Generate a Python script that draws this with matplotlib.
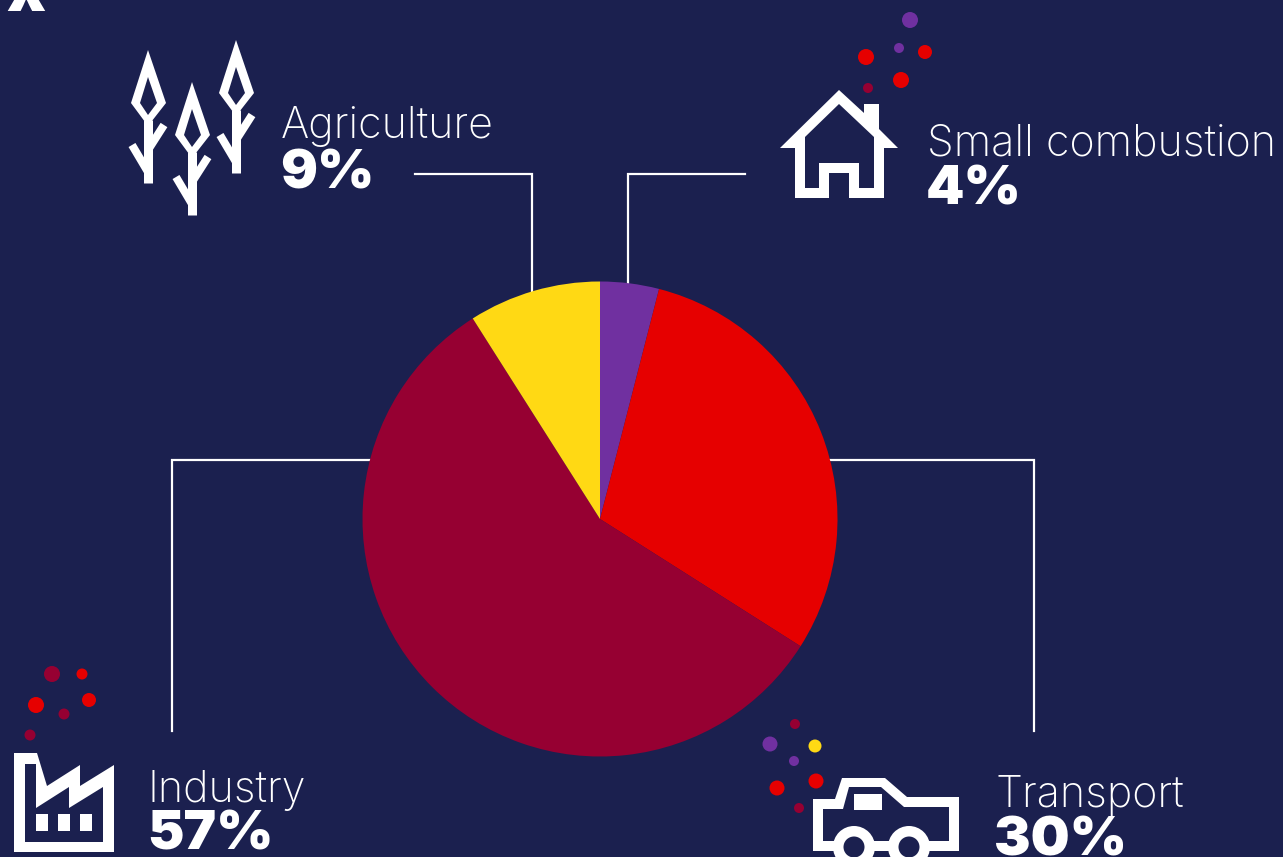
import matplotlib
matplotlib.use('Agg')
import matplotlib.pyplot as plt
from matplotlib.patches import Circle, Polygon, Rectangle

# Pie data
sectors = ['Small combustion', 'Transport', 'Industry', 'Agriculture']
shares = [4, 30, 57, 9]
sector_colors = ['#7030a0', '#e60000', '#960032', '#ffd914']

BG = '#1b204f'
WHITE = '#ffffff'
PURPLE, RED, DARK, YELLOW = sector_colors[0], sector_colors[1], sector_colors[2], sector_colors[3]
FONT = 'Inter'

fig = plt.figure(figsize=(12.83, 8.57), dpi=100, facecolor=BG)
ax = fig.add_axes([0, 0, 1, 1])

# y axis is flipped so the layout can be read as picture pixels, pie runs clockwise from the top
ax.pie(shares, colors=sector_colors, center=(600, 519), radius=237.5, startangle=-90,
       counterclock=True, wedgeprops={'linewidth': 0, 'zorder': 3})
ax.set_xlim(0, 1283)
ax.set_ylim(857, 0)
ax.set_aspect('auto')
ax.axis('off')


def px(w):
  return w * 0.72


def shape(outer, inner=None):
  ax.add_patch(Polygon(outer, closed=True, fc=WHITE, ec='none', zorder=4))
  if inner is not None:
    ax.add_patch(Polygon(inner, closed=True, fc=BG, ec='none', zorder=5))


def dots(items):
  for x, y, r, c in items:
    ax.add_patch(Circle((x, y), r, fc=c, ec='none', zorder=4))


def wheat(dx, dy):
  shape([(148 + dx, 50 + dy), (166 + dx, 103 + dy), (148 + dx, 126 + dy), (131 + dx, 103 + dy)],
        [(148 + dx, 77 + dy), (157 + dx, 103 + dy), (148 + dx, 115 + dy), (140 + dx, 103 + dy)])
  ax.plot([147.7 + dx, 147.7 + dx], [120 + dy, 183 + dy], color=WHITE, lw=px(9), solid_capstyle='butt', zorder=4)
  ax.plot([148 + dx, 164 + dx], [150 + dy, 125 + dy], color=WHITE, lw=px(8), solid_capstyle='butt', zorder=4)
  ax.plot([148 + dx, 132 + dx], [172 + dy, 145 + dy], color=WHITE, lw=px(8), solid_capstyle='butt', zorder=4)


# Leader lines
for xs, ys in [([415, 532, 532], [174, 174, 292]),
               ([745, 628, 628], [174, 174, 285]),
               ([172, 172, 370], [731, 460, 460]),
               ([1034, 1034, 830], [731, 460, 460])]:
  ax.plot(xs, ys, color=WHITE, lw=px(2.2), solid_joinstyle='miter', zorder=2)

# Agriculture icon
wheat(0, 0)
wheat(44, 32)
wheat(88, -10)

# House icon
shape([(839, 90), (864, 113), (864, 104), (879, 104), (879, 129), (898, 148), (884, 148), (884, 198),
       (849, 198), (849, 173), (829, 173), (829, 198), (795, 198), (795, 148), (780, 148)],
      [(839, 104), (874, 137), (874, 188), (859, 188), (859, 163), (819, 163), (819, 188), (805, 188), (805, 137)])
dots([(910, 20, 8, PURPLE), (899, 48, 5, PURPLE), (925, 52, 7, RED),
      (866, 57, 8, RED), (901, 80, 8, RED), (868, 88, 5, DARK)])

# Factory icon
shape([(14, 753), (37, 753), (47, 786), (80, 765), (80, 786), (114, 765), (114, 852), (14, 852)],
      [(25, 764), (36, 764), (36, 808), (69, 787), (69, 808), (103, 787), (103, 842), (25, 842)])
for wx in [36, 58, 80]:
  ax.add_patch(Rectangle((wx, 814), 11.5, 17, fc=WHITE, ec='none', zorder=6))
dots([(52, 674, 8, DARK), (82, 674, 5.5, RED), (36, 705, 8, RED),
      (89, 700, 7, RED), (64, 714, 5.5, DARK), (30, 735, 5.5, DARK)])

# Car icon
shape([(813, 799), (835, 799), (842, 778), (885, 778), (907, 797), (959, 797), (959, 851), (813, 851)],
      [(823, 809), (843, 809), (849, 787), (881, 787), (904, 807), (949, 807), (949, 841), (823, 841)])
ax.add_patch(Rectangle((854, 794), 28, 16, fc=WHITE, ec='none', zorder=6))
for wx in [854, 909]:
  ax.add_patch(Circle((wx, 847), 21, fc=WHITE, ec='none', zorder=6))
  ax.add_patch(Circle((wx, 847), 10.5, fc=BG, ec='none', zorder=7))
dots([(795, 724, 5, DARK), (770, 744, 7.5, PURPLE), (815, 746, 6.5, YELLOW), (794, 761, 5, PURPLE),
      (816, 781, 7.5, RED), (777, 788, 7.5, RED), (799, 808, 5, DARK)])

# Labels
labels = [('Agriculture', '9%', 281, 138, 188),
          ('Small combustion', '4%', 927, 155, 204),
          ('Industry', '57%', 148, 802, 850),
          ('Transport', '30%', 995, 807, 856)]
for name, pct, x, y1, y2 in labels:
  ax.text(x, y1, name, color=WHITE, fontsize=31, family=FONT, weight='light', va='baseline', ha='left', zorder=8)
  ax.text(x - 1, y2, pct, color=WHITE, fontsize=39.5, family=FONT, weight='black', va='baseline', ha='left', zorder=8)

# Cut off letter in the top corner
ax.text(26, 11, 'x', color=WHITE, fontsize=46, family=FONT, weight='black', va='baseline', ha='center', zorder=8)

fig.savefig('out.png', dpi=100, facecolor=BG)
